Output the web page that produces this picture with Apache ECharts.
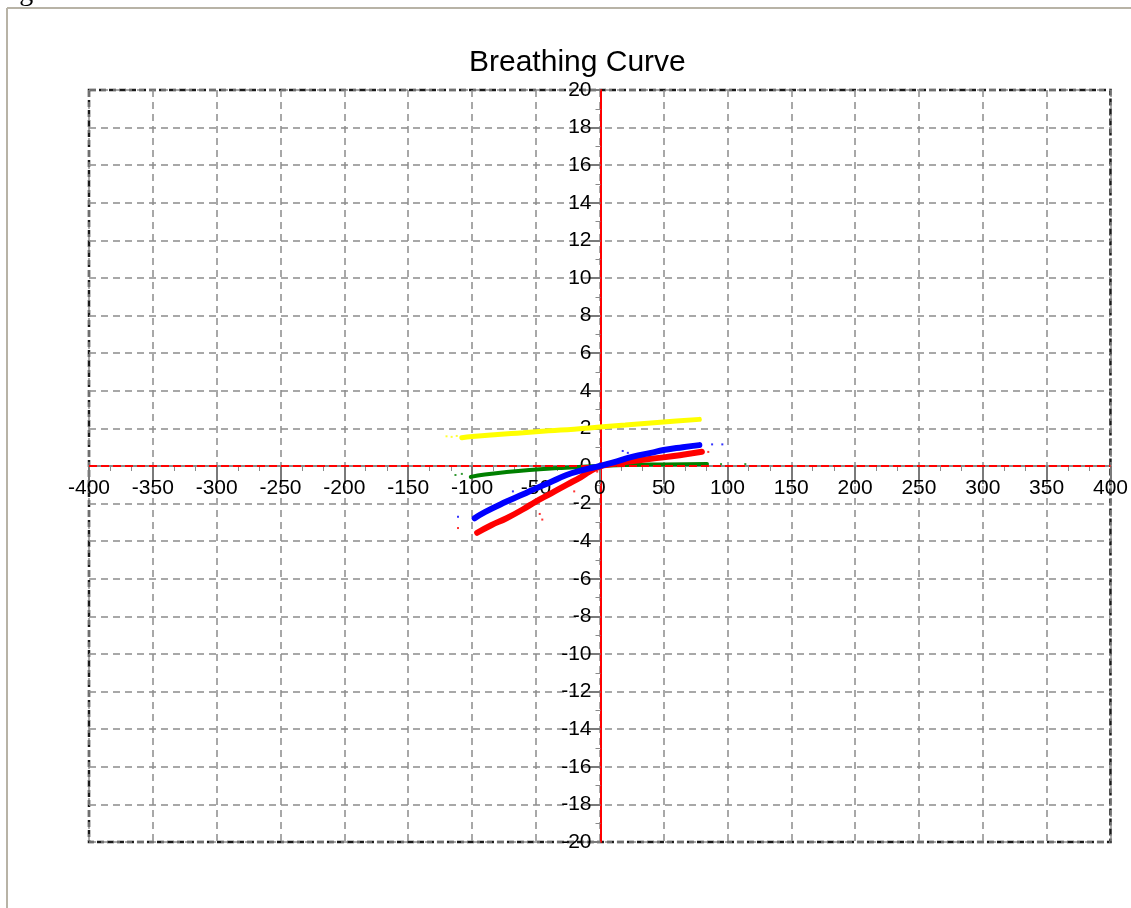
<!DOCTYPE html>
<html>
<head>
<meta charset="utf-8">
<title>Breathing Curve</title>
<script src="https://cdn.jsdelivr.net/npm/echarts@6/dist/echarts.min.js"></script>
<style>
  html, body { margin: 0; padding: 0; background: #ffffff; }
  #chart { width: 1131px; height: 908px; }
</style>
</head>
<body>
<div id="chart"></div>
<script>
// Axis ranges and tick spacing
const xRange = [-400, 400];
const yRange = [-20, 20];
const xStep = 50;
const yStep = 2;

// Breathing curves: [x, y] readings for each trace
const yellowPts = [[-108, 1.50], [-100, 1.57], [-80, 1.68], [-60, 1.77], [-40, 1.87], [-20, 1.96],
  [0, 2.07], [20, 2.18], [40, 2.29], [60, 2.39], [78, 2.48]];
const greenPts = [[-101, -0.58], [-90, -0.45], [-73, -0.32], [-50, -0.19], [-30, -0.10], [-10, -0.03],
  [0, 0.0], [20, 0.05], [50, 0.08], [84, 0.10]];
const redPts = [[-96, -3.55], [-85, -3.15], [-73, -2.78], [-60, -2.30], [-50, -1.89], [-38, -1.45],
  [-26, -1.00], [-15, -0.60], [-8, -0.30], [0, -0.03], [10, 0.10], [26, 0.27], [50, 0.46],
  [65, 0.60], [80, 0.76]];
const bluePts = [[-98, -2.78], [-90, -2.45], [-73, -1.89], [-60, -1.50], [-50, -1.19], [-40, -0.90],
  [-26, -0.48], [-15, -0.25], [-5, -0.08], [0, 0.0], [10, 0.18], [26, 0.50], [40, 0.70],
  [50, 0.85], [65, 1.00], [78, 1.11]];

// Stray readings away from the main traces
const yellowStray = [[-120, 1.58], [-116, 1.55], [-112, 1.60]];
const greenStray = [[-113, -0.48], [-108, -0.42], [95, 0.10], [114, 0.10]];
const redStray = [[-111, -3.30], [-80, -2.05], [-47, -2.55], [-45, -2.85], [-20, -1.35], [30, 0.25],
  [85, 0.75], [-2, -0.30]];
const blueStray = [[-111, -2.70], [-68, -1.35], [18, 0.80], [22, 0.70], [88, 1.15], [96, 1.15]];

const LABEL_FONT = 'Arial, "Liberation Sans", sans-serif';

// grid box in pixels; the axes are shifted inward so they cross at the origin
const GRID = { left: 89, right: 19, top: 90, bottom: 66 };
const W = 1131, H = 908;
const gridW = W - GRID.left - GRID.right;
const gridH = H - GRID.top - GRID.bottom;
const xAxisShift = -gridH * (0 - yRange[0]) / (yRange[1] - yRange[0]);
const yAxisShift = -gridW * (0 - xRange[0]) / (xRange[1] - xRange[0]);

const chart = echarts.init(document.getElementById('chart'), null, { renderer: 'canvas' });

function trace(name, pts, color, width, z) {
  return {
    name, type: 'line', data: pts, smooth: true, showSymbol: false, symbol: 'none',
    lineStyle: { color, width, cap: 'round' }, z, silent: true, animation: false
  };
}
function stray(name, pts, color, z) {
  return {
    name, type: 'scatter', data: pts, symbol: 'rect', symbolSize: 2,
    itemStyle: { color }, z, silent: true, animation: false
  };
}

chart.setOption({
  animation: false,
  backgroundColor: '#ffffff',
  title: {
    text: 'Breathing Curve',
    left: 469,
    top: 48,
    padding: 0,
    textStyle: { fontFamily: LABEL_FONT, fontSize: 30, fontWeight: 'normal', color: '#000000' }
  },
  graphic: [
    // figure caption clipped at the top edge
    { type: 'text', left: -4, top: -21, z: 100,
      style: { text: 'Fig. 1', font: '28px "Liberation Serif", "Times New Roman", serif', fill: '#000000' } },
    // surrounding frame
    { type: 'line', z: 100, shape: { x1: 7, y1: 8, x2: 1131, y2: 8 },
      style: { stroke: '#b8b3a6', lineWidth: 2 } },
    { type: 'line', z: 100, shape: { x1: 7, y1: 8, x2: 7, y2: 908 },
      style: { stroke: '#b8b3a6', lineWidth: 2 } }
  ],
  grid: {
    left: GRID.left, right: GRID.right, top: GRID.top, bottom: GRID.bottom,
    show: true, borderColor: '#1a1a1a', borderWidth: 2.5,
    borderType: [7, 3], backgroundColor: 'transparent'
  },
  xAxis: {
    type: 'value', min: xRange[0], max: xRange[1], interval: xStep,
    position: 'bottom', offset: xAxisShift,
    axisLine: { onZero: false, lineStyle: { color: '#8a8a8a', width: 2 } },
    axisTick: { show: true, length: 18, lineStyle: { color: '#7a7a7a', width: 2 } },
    minorTick: { show: true, splitNumber: 3, length: 5, lineStyle: { color: '#8a8a8a', width: 1 } },
    axisLabel: { color: '#000000', fontFamily: LABEL_FONT, fontSize: 21, margin: 12 },
    splitLine: { show: true, lineStyle: { color: '#8c8c8c', width: 1.5, type: [7, 5] } }
  },
  yAxis: {
    type: 'value', min: yRange[0], max: yRange[1], interval: yStep,
    position: 'left', offset: yAxisShift,
    axisLine: { onZero: false, lineStyle: { color: '#ff0000', width: 2 } },
    axisTick: { show: true, length: 12, lineStyle: { color: '#7a7a7a', width: 2 } },
    minorTick: { show: true, splitNumber: 2, length: 5, lineStyle: { color: '#8a8a8a', width: 1 } },
    axisLabel: { color: '#000000', fontFamily: LABEL_FONT, fontSize: 21, margin: 9 },
    splitLine: { show: true, lineStyle: { color: '#8c8c8c', width: 1.5, type: [7, 5] } }
  },
  series: [
    trace('yellow', yellowPts, '#ffff00', 5, 3),
    stray('yellowStray', yellowStray, '#ffff00', 3),
    trace('green', greenPts, '#008000', 4, 4),
    stray('greenStray', greenStray, '#008000', 4),
    trace('red', redPts, '#ff0000', 6, 5),
    stray('redStray', redStray, '#ff0000', 5),
    trace('blue', bluePts, '#0000ff', 6, 6),
    stray('blueStray', blueStray, '#0000ff', 6),
    {
      // red dashes along the horizontal zero line
      name: 'zeroLine', type: 'line', data: [], silent: true, z: 2,
      markLine: {
        silent: true, symbol: 'none', label: { show: false },
        lineStyle: { color: '#ff0000', width: 2, type: [8, 4] },
        data: [{ yAxis: 0 }]
      }
    }
  ]
});
</script>
</body>
</html>
